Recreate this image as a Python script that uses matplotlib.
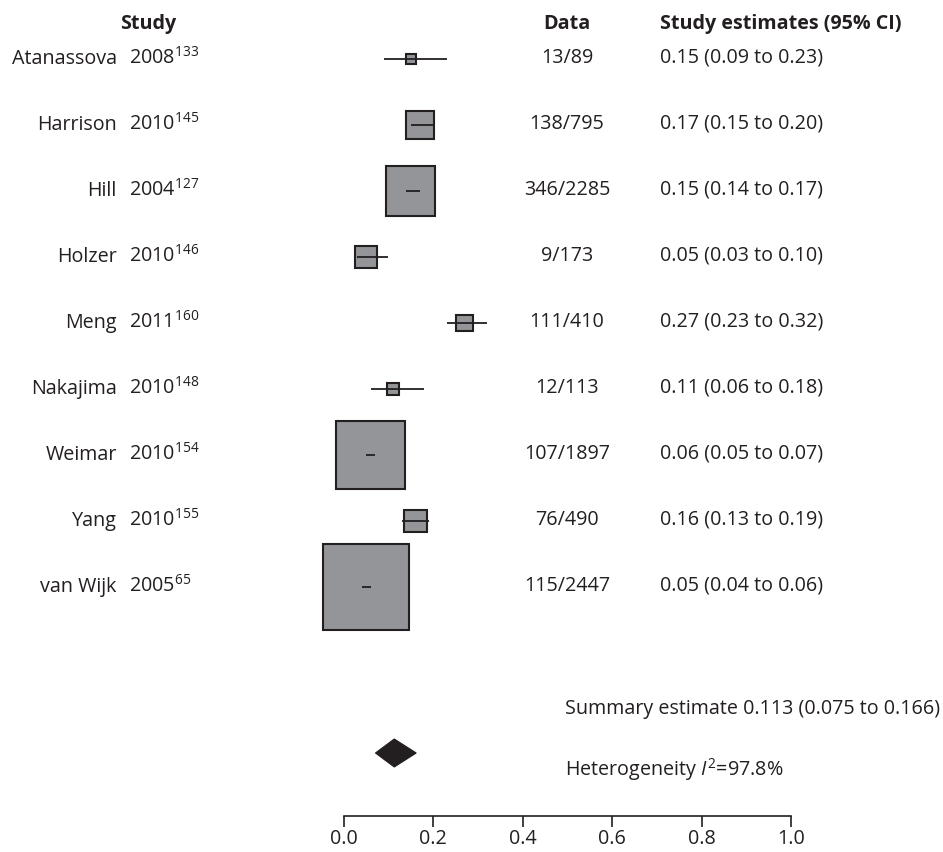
import matplotlib
matplotlib.use("Agg")
import matplotlib.pyplot as plt
from matplotlib.patches import Rectangle, Polygon
import numpy as np

# ---------------- data ----------------
studies = ["Atanassova", "Harrison", "Hill", "Holzer", "Meng", "Nakajima", "Weimar", "Yang", "van Wijk"]
years = ["2008", "2010", "2004", "2010", "2011", "2010", "2010", "2010", "2005"]
refs = ["133", "145", "127", "146", "160", "148", "154", "155", "65"]
data_txt = ["13/89", "138/795", "346/2285", "9/173", "111/410", "12/113", "107/1897", "76/490", "115/2447"]
est = [0.15, 0.17, 0.15, 0.05, 0.27, 0.11, 0.06, 0.16, 0.05]
lo = [0.09, 0.15, 0.14, 0.03, 0.23, 0.06, 0.05, 0.13, 0.04]
hi = [0.23, 0.20, 0.17, 0.10, 0.32, 0.18, 0.07, 0.19, 0.06]
weight_pct = [0.59, 4.65, 14.23, 2.74, 1.71, 0.92, 27.81, 3.00, 44.35]
summary_est, summary_lo, summary_hi = 0.113, 0.075, 0.166
i2 = 97.8
xticks = [0.0, 0.2, 0.4, 0.6, 0.8, 1.0]

# ---------------- layout ----------------
W, H = 943, 852
X0, SCALE = 343.7, 447.5          # pixel of x=0, pixels per unit
ROW0, ROWSTEP = 59, 66
AXIS_Y = 816
DIAM_Y, DIAM_H = 753, 14
BOX_K = 12.99

def px(x):
    return (x - X0) / SCALE

FONT = "Open Sans"
TXT = "#231f20"
plt.rcParams["font.family"] = [FONT, "DejaVu Sans"]
plt.rcParams["mathtext.fontset"] = "custom"
plt.rcParams["mathtext.rm"] = FONT
plt.rcParams["mathtext.it"] = FONT + ":italic"
plt.rcParams["mathtext.bf"] = FONT + ":bold"
FS = 14.2

fig = plt.figure(figsize=(W / 100, H / 100), dpi=100)
ax = fig.add_axes([0, 0, 1, 1])
ax.set_xlim(px(0), px(W))
ax.set_ylim(H, 0)
ax.set_facecolor("white")

# rows
for i in range(len(studies)):
    y = ROW0 + ROWSTEP * i
    side = BOX_K * np.sqrt(weight_pct[i])
    ax.add_patch(Rectangle((est[i] - side / 2 / SCALE, y - side / 2), side / SCALE, side,
                           facecolor="#939598", edgecolor=TXT, lw=1.5, zorder=2))
    ax.plot([lo[i], hi[i]], [y, y], color=TXT, lw=1.3, zorder=3, solid_capstyle="butt")
    ax.text(px(116.7), y, studies[i], ha="right", va="center", fontsize=FS, color=TXT)
    ax.text(px(129), y - 1, years[i] + r"$^{" + refs[i] + r"}$", ha="left", va="center",
            fontsize=FS, color=TXT)
    ax.text(px(567), y - 1, data_txt[i], ha="center", va="center", fontsize=FS, color=TXT)
    ax.text(px(660), y - 1, f"{est[i]:.2f} ({lo[i]:.2f} to {hi[i]:.2f})", ha="left", va="center",
            fontsize=FS, color=TXT)

# headers
ax.text(px(147.7), 24, "Study", ha="center", va="center", fontsize=FS, fontweight="bold", color=TXT)
ax.text(px(567), 24, "Data", ha="center", va="center", fontsize=FS, fontweight="bold", color=TXT)
ax.text(px(660), 24, "Study estimates (95% CI)", ha="left", va="center", fontsize=FS,
        fontweight="bold", color=TXT)

# summary diamond
ax.add_patch(Polygon([[summary_lo - 0.004, DIAM_Y], [summary_est, DIAM_Y - DIAM_H],
                      [summary_hi - 0.004, DIAM_Y], [summary_est, DIAM_Y + DIAM_H]],
                     closed=True, facecolor=TXT, edgecolor=TXT, lw=0.8, zorder=3))
ax.text(px(565), 709, f"Summary estimate {summary_est:.3f} ({summary_lo:.3f} to {summary_hi:.3f})",
        ha="left", va="center", fontsize=FS, color=TXT)
ax.text(px(565), 770, "Heterogeneity " + r"$\mathit{I}^{2}$" + f"={i2}%",
        ha="left", va="center", fontsize=FS, color=TXT)

# axis
for s in ["top", "right", "left"]:
    ax.spines[s].set_visible(False)
ax.spines["bottom"].set_position(("data", AXIS_Y))
ax.spines["bottom"].set_bounds(0, 1)
ax.spines["bottom"].set_color(TXT)
ax.spines["bottom"].set_linewidth(1.2)
ax.set_xticks(xticks)
ax.set_xticklabels([f"{t:.1f}" for t in xticks])
ax.tick_params(axis="x", direction="out", length=8, width=1.2, color=TXT, labelsize=FS,
               labelcolor=TXT, pad=1.5)
ax.set_yticks([])

fig.savefig("out.png", dpi=100, facecolor="white")
